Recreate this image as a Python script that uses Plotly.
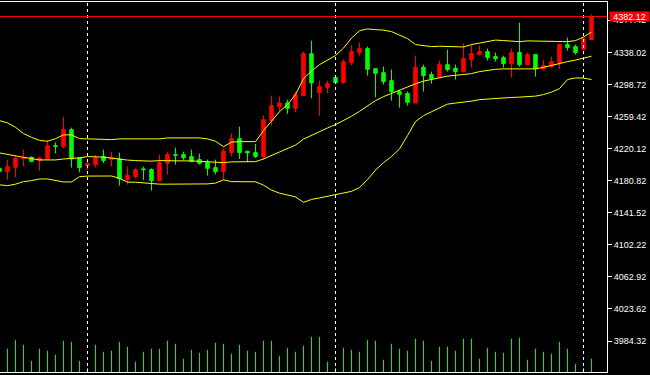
import plotly.graph_objects as go

# bar numbers (bar -1 is partly cut off at the left edge)
bars = list(range(-1, 74))

opens = [4196.0, 4192.0, 4197.2, 4207.5, 4209.5, 4205.5, 4207.5, 4223.8, 4222.6, 4243.5,
         4208.8, 4199.3, 4200.5, 4210.4, 4206.7, 4207.5, 4182.2, 4185.8, 4195.3, 4194.4,
         4180.9, 4202.1, 4212.8, 4212.8, 4210.4, 4206.7, 4203.4, 4196.9, 4192.0, 4215.3,
         4232.4, 4216.9, 4215.3, 4210.4, 4254.5, 4271.7, 4276.2, 4269.6, 4285.1, 4336.6,
         4288.8, 4294.9, 4307.2, 4301.1, 4325.6, 4337.9, 4342.8, 4318.2, 4313.3, 4303.5,
         4290.0, 4287.6, 4276.2, 4319.8, 4310.9, 4307.2, 4323.1, 4318.6, 4314.6, 4329.3,
         4335.4, 4339.1, 4333.0, 4331.7, 4324.4, 4337.9, 4323.1, 4335.4, 4318.2, 4320.7,
         4325.6, 4347.7, 4345.2, 4341.5, 4353.8]
highs = [4198.1, 4206.7, 4211.6, 4218.9, 4210.7, 4210.4, 4231.2, 4227.9, 4259.4, 4245.9,
         4209.3, 4205.5, 4212.4, 4218.9, 4216.5, 4215.3, 4198.1, 4196.0, 4198.1, 4196.0,
         4212.8, 4216.5, 4221.4, 4216.5, 4218.9, 4214.0, 4206.7, 4206.7, 4220.5, 4238.9,
         4247.1, 4217.7, 4225.9, 4260.6, 4285.1, 4283.9, 4280.2, 4290.0, 4339.1, 4352.6,
         4303.5, 4303.5, 4309.7, 4329.6, 4346.8, 4350.1, 4345.2, 4318.5, 4320.7, 4317.0,
         4292.5, 4290.0, 4334.2, 4323.1, 4314.6, 4328.0, 4341.5, 4323.1, 4348.9, 4347.7,
         4346.4, 4342.8, 4337.9, 4334.2, 4342.8, 4374.6, 4337.9, 4335.8, 4329.3, 4333.0,
         4348.9, 4356.2, 4347.7, 4356.2, 4384.4]
lows = [4190.7, 4182.2, 4185.0, 4198.5, 4203.4, 4193.2, 4207.0, 4214.4, 4220.5, 4196.9,
        4191.1, 4194.1, 4196.9, 4202.6, 4198.1, 4174.8, 4176.0, 4183.8, 4181.8, 4168.7,
        4180.4, 4188.3, 4200.5, 4205.5, 4203.4, 4200.5, 4187.1, 4188.7, 4182.2, 4210.7,
        4207.5, 4203.4, 4208.8, 4206.3, 4248.4, 4264.7, 4262.7, 4264.7, 4284.6, 4281.8,
        4260.6, 4288.0, 4299.5, 4299.5, 4322.3, 4334.2, 4309.7, 4283.1, 4298.6, 4279.0,
        4270.4, 4272.9, 4275.8, 4290.0, 4299.8, 4306.8, 4314.6, 4304.8, 4313.3, 4319.5,
        4334.2, 4328.0, 4326.8, 4319.5, 4307.2, 4320.7, 4322.6, 4308.4, 4315.8, 4319.5,
        4318.2, 4340.3, 4335.4, 4341.0, 4353.3]
closes = [4192.3, 4198.1, 4208.3, 4208.8, 4204.6, 4208.8, 4223.8, 4223.0, 4243.5, 4207.5,
          4196.9, 4201.8, 4208.8, 4205.5, 4209.5, 4183.0, 4187.4, 4194.4, 4194.4, 4180.9,
          4203.0, 4212.8, 4212.0, 4209.1, 4204.6, 4202.1, 4196.0, 4192.0, 4216.9, 4232.4,
          4215.3, 4214.9, 4210.4, 4255.7, 4272.9, 4276.2, 4269.6, 4286.4, 4336.6, 4300.7,
          4296.5, 4299.8, 4301.1, 4326.8, 4339.1, 4342.8, 4317.4, 4312.5, 4302.3, 4290.0,
          4286.7, 4276.9, 4319.8, 4309.7, 4306.0, 4323.1, 4317.0, 4314.6, 4330.5, 4336.6,
          4339.1, 4331.7, 4330.5, 4324.4, 4337.9, 4323.1, 4335.4, 4318.2, 4321.9, 4326.8,
          4347.7, 4344.0, 4337.9, 4355.0, 4382.12]

volumes = [200, 233, 323, 273, 113, 233, 213, 173, 313, 303,
           113, 40, 273, 203, 213, 303, 253, 103, 203, 233,
           233, 313, 283, 133, 223, 193, 223, 293, 283, 183,
           273, 213, 203, 313, 313, 163, 243, 203, 263, 353,
           353, 103, 40, 243, 223, 203, 323, 313, 123, 283,
           233, 213, 333, 313, 113, 253, 253, 213, 333, 333,
           133, 243, 203, 193, 333, 343, 123, 233, 203, 183,
           303, 233, 83, 40, 133]

bb_upper = [4254.5, 4251.7, 4246.3, 4238.6, 4234.0, 4230.3, 4229.1, 4232.4, 4237.0, 4237.0,
            4232.4, 4232.1, 4232.1, 4231.2, 4231.2, 4232.1, 4232.1, 4232.1, 4232.1, 4232.1,
            4232.1, 4233.3, 4233.3, 4233.3, 4233.3, 4233.3, 4232.1, 4229.1, 4222.6, 4228.1,
            4228.7, 4228.7, 4228.7, 4242.2, 4254.5, 4265.5, 4274.1, 4286.4, 4306.0, 4315.2,
            4323.1, 4328.9, 4334.2, 4343.4, 4355.6, 4364.8, 4366.9, 4366.0, 4365.4, 4363.6,
            4359.3, 4355.0, 4347.7, 4346.4, 4345.2, 4345.6, 4345.6, 4345.2, 4344.8, 4347.7,
            4349.7, 4351.3, 4353.2, 4352.6, 4352.2, 4351.3, 4352.2, 4352.2, 4351.7, 4351.3,
            4351.7, 4351.3, 4352.6, 4356.9, 4363.0]
bb_middle = [4214.9, 4212.8, 4211.6, 4209.5, 4207.9, 4206.3, 4206.3, 4206.3, 4207.5, 4207.9,
             4208.8, 4210.4, 4210.4, 4209.7, 4208.5, 4207.0, 4206.1, 4205.5, 4204.8, 4204.8,
             4205.5, 4205.1, 4205.1, 4205.1, 4205.1, 4204.6, 4203.6, 4203.4, 4203.0, 4203.9,
             4204.2, 4204.2, 4204.2, 4207.5, 4211.6, 4215.6, 4219.8, 4224.5, 4231.8, 4236.7,
             4241.0, 4245.5, 4249.6, 4254.5, 4259.8, 4265.9, 4272.9, 4279.0, 4283.9, 4288.0,
             4291.3, 4295.8, 4299.6, 4302.9, 4305.1, 4307.2, 4309.0, 4310.0, 4310.9, 4312.1,
             4314.6, 4316.4, 4317.4, 4317.9, 4317.9, 4317.4, 4317.9, 4317.9, 4319.8, 4322.2,
             4325.0, 4326.8, 4328.7, 4331.1, 4333.4]
bb_lower = [4175.7, 4174.8, 4176.6, 4179.7, 4180.9, 4183.0, 4183.0, 4181.5, 4179.3, 4179.3,
            4185.8, 4186.5, 4186.5, 4186.2, 4186.6, 4183.8, 4179.1, 4179.0, 4178.2, 4176.6,
            4176.6, 4176.6, 4176.6, 4176.6, 4176.6, 4176.6, 4176.9, 4177.9, 4181.9, 4179.7,
            4179.5, 4179.5, 4179.5, 4175.4, 4169.3, 4165.6, 4163.4, 4161.0, 4154.3, 4157.9,
            4159.7, 4161.7, 4164.6, 4165.9, 4167.8, 4172.4, 4182.2, 4193.8, 4203.0, 4210.4,
            4219.8, 4236.1, 4253.3, 4260.6, 4265.5, 4270.4, 4274.7, 4276.0, 4276.9, 4278.4,
            4280.2, 4281.1, 4281.8, 4282.4, 4282.9, 4283.3, 4283.7, 4284.5, 4286.4, 4289.4,
            4293.7, 4304.8, 4306.8, 4306.7, 4304.8]

price_ticks = [4377.42, 4338.02, 4298.72, 4259.42, 4220.12, 4180.82, 4141.52,
               4102.22, 4062.92, 4023.62, 3984.32]
price_labels = ["4377.42", "4338.02", "4298.72", "4259.42", "4220.12", "4180.82", "4141.52",
                "4102.22", "4062.92", "4023.62", "3984.32"]
bid_price = 4382.12
bid_label = "4382.12"
day_breaks = [10, 41, 72]

UP = "#ff0000"
DOWN = "#00ff00"
BAND = "#ffff00"

fig = go.Figure()

fig.add_trace(go.Bar(x=bars, y=volumes, yaxis="y2", width=0.12,
                     marker=dict(color=DOWN, line=dict(width=0)), showlegend=False))

fig.add_trace(go.Candlestick(
    x=bars, open=opens, high=highs, low=lows, close=closes,
    increasing=dict(line=dict(color=UP, width=1), fillcolor=UP),
    decreasing=dict(line=dict(color=DOWN, width=1), fillcolor=DOWN),
    whiskerwidth=0, showlegend=False))

for band in (bb_upper, bb_middle, bb_lower):
    fig.add_trace(go.Scatter(x=bars, y=band, mode="lines",
                             line=dict(color=BAND, width=1), showlegend=False))

shapes = []
for b in day_breaks:
    shapes.append(dict(type="line", xref="x", yref="paper", x0=b, x1=b, y0=0, y1=1,
                       line=dict(color="white", width=1, dash="3px,3px")))
shapes.append(dict(type="line", xref="paper", yref="y", x0=0, x1=1, y0=bid_price, y1=bid_price,
                   line=dict(color=UP, width=1)))

fig.update_layout(
    width=650, height=375, autosize=False,
    margin=dict(l=0, r=43, t=2, b=3),
    paper_bgcolor="black", plot_bgcolor="black",
    boxgap=0.38,
    xaxis=dict(range=[-0.9375, 74.9375], showgrid=False, zeroline=False,
               showticklabels=False, ticks="", showline=True, mirror=True,
               linecolor="white", linewidth=1, rangeslider=dict(visible=False)),
    yaxis=dict(range=[3946.34, 4399.89], side="right", showgrid=False, zeroline=False,
               tickvals=price_ticks, ticktext=price_labels, ticks="outside", ticklen=4,
               tickcolor="white", tickwidth=1, showline=True, linecolor="white", linewidth=1,
               tickfont=dict(family="Liberation Sans", size=9, color="white")),
    yaxis2=dict(range=[0, 3700], overlaying="y", visible=False, showgrid=False),
    shapes=shapes,
    annotations=[dict(xref="paper", yref="y", x=1, y=bid_price, xanchor="left", yanchor="middle",
                      xshift=2, text=bid_label, showarrow=False, bgcolor=UP, borderpad=0,
                      width=39, height=9, align="center",
                      font=dict(family="Liberation Sans", size=9, color="white"))],
    hovermode=False,
)

fig.write_html("out.html", config={"displayModeBar": False, "staticPlot": True},
               post_script="document.body.style.margin='0';")
